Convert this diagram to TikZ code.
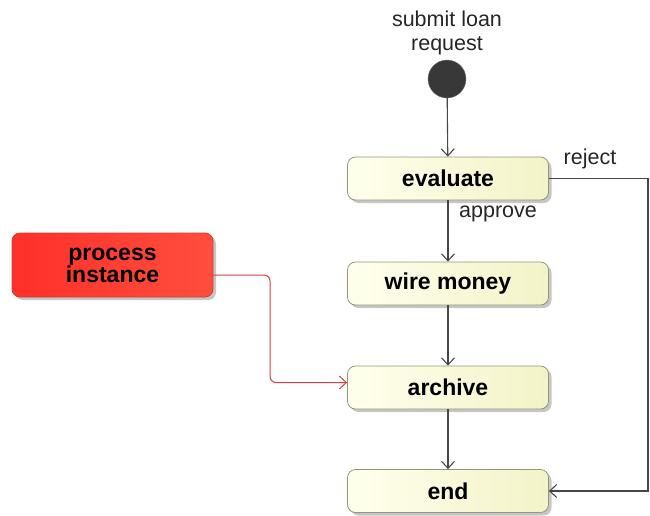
\documentclass[tikz,border=0pt]{standalone}
\usepackage{fontspec}
\setmainfont{Liberation Sans}
\usetikzlibrary{arrows.meta, shadows, positioning, calc}
\definecolor{creamlight}{RGB}{255,255,238}
\definecolor{creamdark}{RGB}{243,243,200}
\definecolor{olivegray}{RGB}{150,150,118}
\definecolor{flowgray}{RGB}{70,70,70}
\definecolor{redlight}{RGB}{255,48,42}
\definecolor{reddark}{RGB}{255,78,62}
\definecolor{redline}{RGB}{224,60,60}
\tikzset{
  activity/.style={draw=olivegray, line width=0.8pt, rounded corners=8pt,
    left color=creamlight, right color=creamdark,
    minimum width=201pt, minimum height=43pt, inner sep=0pt,
    font=\fontsize{23}{24}\selectfont\bfseries,
    drop shadow={shadow xshift=3pt, shadow yshift=-3pt, fill=gray, opacity=0.45}},
  instance/.style={activity, draw=reddark!80!black, left color=redlight, right color=reddark,
    minimum height=64pt, align=center, font=\fontsize{23}{22}\selectfont\bfseries},
  label/.style={font=\fontsize{21.5}{24}\selectfont, text=black!85, inner sep=0pt},
  flow/.style={draw=flowgray, line width=1.1pt, -{Straight Barb[length=7pt, width=13pt, line width=1.1pt]}},
  redflow/.style={draw=redline, line width=1pt, rounded corners=6pt, -{Straight Barb[length=7pt, width=13pt, line width=1pt]}}
}
\begin{document}
\begin{tikzpicture}[x=1pt, y=-1pt]
\useasboundingbox (0,0) rectangle (650,515);
\node[label, align=center] (startlabel) at (447,33) {submit loan\\request};
\node[circle, fill=black!78, draw=black!55, minimum size=38pt, inner sep=0pt] (start) at (447,79) {};
\node[activity] (eval) at (448,178.5) {evaluate};
\node[activity] (wire) at (448,283.5) {wire money};
\node[activity] (arch) at (448,387.5) {archive};
\node[activity] (fin) at (448,491) {end};
\node[instance] (pi) at (112.5,265) {process\\instance};
\coordinate (rejturn) at (648,330);
\coordinate (redturn) at (270,330);
\draw[flow] (start) -- (eval);
\draw[flow] (eval) -- (wire);
\draw[flow] (wire) -- (arch);
\draw[flow] (arch) -- (fin);
\draw[flow] (eval.east) -| (rejturn) |- (fin.east);
\node[label] (reject) at (590,159) {reject};
\node[label] (approve) at (498,214) {approve};
\draw[redflow] ([yshift=-10pt]pi.east) -| (redturn) |- ([yshift=5pt]arch.west);
\end{tikzpicture}
\end{document}
